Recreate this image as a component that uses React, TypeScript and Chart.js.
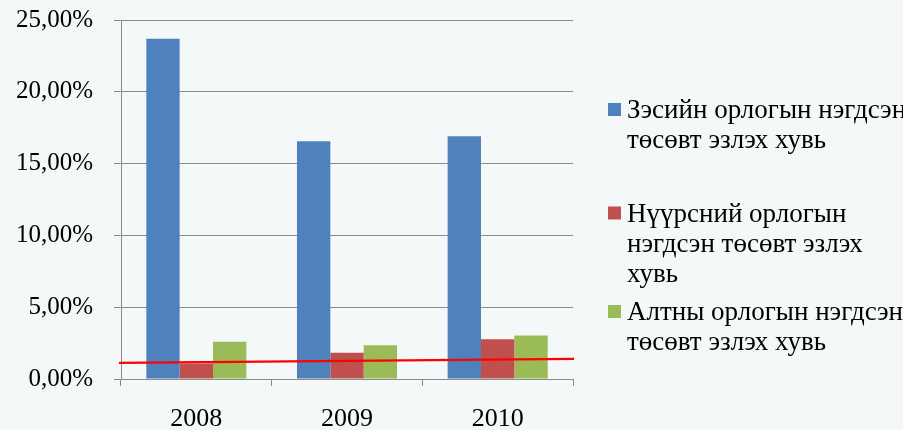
import React, { useEffect, useRef } from "react";
import { Chart, registerables } from "chart.js";

Chart.register(...registerables);

const categories = ["2008", "2009", "2010"];
const copperShare = [23.7, 16.55, 16.9];
const coalShare = [1.08, 1.83, 2.76];
const goldShare = [2.6, 2.35, 3.03];
// trend line: value at the left edge and at the right edge of the plot
const trendY = [1.12, 1.4];

const seriesNames = [
  ["Зэсийн орлогын нэгдсэн", "төсөвт эзлэх хувь"],
  ["Нүүрсний орлогын", "нэгдсэн төсөвт эзлэх", "хувь"],
  ["Алтны орлогын нэгдсэн", "төсөвт эзлэх хувь"],
];
const seriesColors = ["#4F81BD", "#C0504D", "#9BBB59"];

const FONT = "'Liberation Serif', 'Times New Roman', serif";

const trendPlugin = {
  id: "trendLine",
  afterDatasetsDraw(chart: any) {
    const { ctx, chartArea, scales } = chart;
    const y0 = scales.y.getPixelForValue(trendY[0]);
    const y1 = scales.y.getPixelForValue(trendY[1]);
    ctx.save();
    ctx.strokeStyle = "#FF0000";
    ctx.lineWidth = 2.2;
    ctx.beginPath();
    ctx.moveTo(chartArea.left - 2, y0);
    ctx.lineTo(chartArea.right + 1, y1);
    ctx.stroke();
    ctx.restore();
  },
};

const legendPlugin = {
  id: "wrappedLegend",
  afterDraw(chart: any) {
    const ctx = chart.ctx;
    const boxX = 608;
    const textX = 627;
    const firstBaselines = [118, 221.5, 320];
    const lineH = 30;
    ctx.save();
    ctx.font = `27px ${FONT}`;
    ctx.textBaseline = "alphabetic";
    ctx.textAlign = "left";
    seriesNames.forEach((lines, i) => {
      const b = firstBaselines[i];
      ctx.fillStyle = seriesColors[i];
      ctx.fillRect(boxX, b - 15, 13, 13);
      ctx.fillStyle = "#000000";
      lines.forEach((t, j) => ctx.fillText(t, textX, b + j * lineH));
    });
    ctx.restore();
  },
};

export default function App() {
  const ref = useRef<HTMLCanvasElement>(null);
  useEffect(() => {
    if (!ref.current) return;
    const common = { categoryPercentage: 0.664, barPercentage: 1 };
    const chart = new Chart(ref.current, {
      type: "bar",
      data: {
        labels: categories,
        datasets: [
          { label: seriesNames[0].join(" "), data: copperShare, backgroundColor: seriesColors[0], ...common },
          { label: seriesNames[1].join(" "), data: coalShare, backgroundColor: seriesColors[1], ...common },
          { label: seriesNames[2].join(" "), data: goldShare, backgroundColor: seriesColors[2], ...common },
        ],
      },
      options: {
        animation: false,
        responsive: true,
        maintainAspectRatio: false,
        layout: { padding: { top: 20, right: 330, bottom: 0, left: 0 } },
        plugins: { legend: { display: false }, tooltip: { enabled: false } },
        scales: {
          x: {
            grid: { display: true, drawOnChartArea: false, offset: true, color: "#8a8a8a", tickLength: 7, tickColor: "#8a8a8a" },
            border: { color: "#8a8a8a", width: 1 },
            ticks: { color: "#000", font: { family: FONT, size: 26 }, padding: 18 },
            afterFit: (s: any) => { s.height = 51; s.paddingLeft = 0; s.paddingRight = 0; },
          },
          y: {
            min: 0,
            max: 25,
            ticks: {
              stepSize: 5,
              color: "#000",
              font: { family: FONT, size: 25 },
              padding: 21,
              callback: (v: any) => Number(v).toFixed(2).replace(".", ",") + "%",
            },
            grid: { color: "#8a8a8a", tickLength: 7, tickColor: "#8a8a8a" },
            border: { color: "#8a8a8a", width: 1 },
            afterFit: (s: any) => { s.width = 121; s.paddingTop = 0; s.paddingBottom = 0; },
          },
        },
      },
      plugins: [trendPlugin, legendPlugin],
    } as any);
    return () => chart.destroy();
  }, []);
  return (
    <div style={{ position: "absolute", left: 0, top: 0, width: 903, height: 430, background: "#f5f8f9" }}>
      <canvas ref={ref} />
    </div>
  );
}
